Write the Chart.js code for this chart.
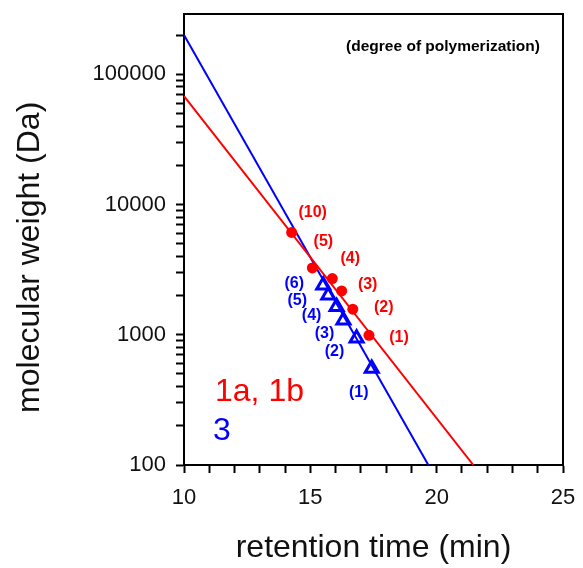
<!DOCTYPE html>
<html>
<head>
<meta charset="utf-8">
<script src="https://cdn.jsdelivr.net/npm/chart.js@4/dist/chart.umd.min.js"></script>
<style>
  html, body { margin: 0; padding: 0; background: #fff; }
  #wrap { width: 583px; height: 568px; }
</style>
</head>
<body>
<div id="wrap"><canvas id="mwChart" width="583" height="568"></canvas></div>
<script>
// retention time (min) vs molecular weight (Da)
const redTimes = [14.26, 15.08, 15.87, 16.24, 16.68, 17.32];
const redMW = [6100, 3260, 2700, 2170, 1570, 990];
const redDP = ["(10)", "(5)", "(4)", "(3)", "(2)", "(1)"];

const blueTimes = [15.51, 15.71, 16.04, 16.31, 16.83, 17.43];
const blueMW = [2400, 2010, 1640, 1290, 940, 550];
const blueDP = ["(6)", "(5)", "(4)", "(3)", "(2)", "(1)"];

// calibration lines (end points)
const redFitTimes = [10, 21.45];
const redFitMW = [68000, 100];
const blueFitTimes = [10, 19.67];
const blueFitMW = [200000, 100];

const xTickLabels = [10, 15, 20, 25];
const yTickLabels = [100, 1000, 10000, 100000];

const RED = "#ff0000";
const BLUE = "#0000ff";
const FONT = '"Liberation Sans", Arial, sans-serif';

function toPoints(xs, ys) {
    return xs.map((x, i) => ({ x: x, y: ys[i] }));
}

// label offsets from each marker (px)
const redOffsets = [[21, -20], [11, -26], [18, -20], [26, -6], [31, -2], [30, 2]];
const blueOffsets = [[-29, -2], [-31, 5], [-25, 9], [-19, 13], [-22, 13], [-13, 24]];

const annotations = {
    id: "annotations",
    afterDatasetsDraw(chart) {
        const ctx = chart.ctx;
        const area = chart.chartArea;
        ctx.save();

        // frame top / right
        ctx.strokeStyle = "#000";
        ctx.lineWidth = 2;
        ctx.beginPath();
        ctx.moveTo(area.left, area.top);
        ctx.lineTo(area.right, area.top);
        ctx.lineTo(area.right, area.bottom);
        ctx.stroke();

        ctx.textAlign = "center";
        ctx.textBaseline = "middle";
        ctx.font = "bold 16px " + FONT;

        ctx.fillStyle = RED;
        chart.getDatasetMeta(0).data.forEach((pt, i) => {
            ctx.fillText(redDP[i], pt.x + redOffsets[i][0], pt.y + redOffsets[i][1]);
        });
        ctx.fillStyle = BLUE;
        chart.getDatasetMeta(1).data.forEach((pt, i) => {
            ctx.fillText(blueDP[i], pt.x + blueOffsets[i][0], pt.y + blueOffsets[i][1]);
        });

        ctx.fillStyle = "#000";
        ctx.font = "bold 15.5px " + FONT;
        ctx.fillText("(degree of polymerization)", area.right - 120, area.top + 33);

        ctx.textAlign = "left";
        ctx.font = "32px " + FONT;
        ctx.fillStyle = RED;
        ctx.fillText("1a, 1b", area.left + 31, 392);
        ctx.fillStyle = BLUE;
        ctx.fillText("3", area.left + 29, 431);

        ctx.restore();
    }
};

new Chart("mwChart", {
    type: "scatter",
    data: {
        datasets: [{
            label: "1a, 1b",
            data: toPoints(redTimes, redMW),
            pointStyle: "circle",
            pointRadius: 5.5,
            backgroundColor: RED,
            borderColor: RED,
            borderWidth: 0,
            showLine: false
        }, {
            label: "3",
            data: toPoints(blueTimes, blueMW),
            pointStyle: "triangle",
            pointRadius: 7.5,
            backgroundColor: "rgba(255,255,255,0)",
            borderColor: BLUE,
            borderWidth: 3,
            showLine: false
        }, {
            label: "fit 1a, 1b",
            data: toPoints(redFitTimes, redFitMW),
            showLine: true,
            borderColor: RED,
            borderWidth: 2,
            pointRadius: 0
        }, {
            label: "fit 3",
            data: toPoints(blueFitTimes, blueFitMW),
            showLine: true,
            borderColor: BLUE,
            borderWidth: 2,
            pointRadius: 0
        }]
    },
    options: {
        responsive: false,
        animation: false,
        layout: { padding: { top: 14, right: 20, left: 0, bottom: 0 } },
        plugins: {
            legend: { display: false },
            tooltip: { enabled: false }
        },
        scales: {
            x: {
                type: "linear",
                min: 10,
                max: 25,
                afterFit: (s) => {
                    s.height = 103;
                    s.paddingLeft = 0;
                    s.paddingRight = 0;
                },
                ticks: {
                    stepSize: 1,
                    autoSkip: false,
                    maxRotation: 0,
                    padding: 12,
                    color: "#111",
                    font: { family: FONT, size: 22 },
                    callback: (v) => xTickLabels.includes(v) ? String(v) : ""
                },
                grid: {
                    drawOnChartArea: false,
                    drawTicks: true,
                    tickLength: 8,
                    tickWidth: 2,
                    tickColor: "#000"
                },
                border: { display: true, color: "#000", width: 2 },
                title: {
                    display: true,
                    text: "retention time (min)",
                    color: "#111",
                    font: { family: FONT, size: 32 },
                    padding: { top: 0, bottom: 1 }
                }
            },
            y: {
                type: "logarithmic",
                min: 100,
                max: 290000,
                afterFit: (s) => {
                    s.width = 184;
                    s.paddingTop = 0;
                    s.paddingBottom = 0;
                },
                afterBuildTicks: (s) => {
                    const vals = [];
                    yTickLabels.forEach((d) => {
                        for (let k = 1; k <= 9; k++) {
                            if (d * k <= 290000) vals.push(d * k);
                        }
                    });
                    s.ticks = vals.map((v) => ({ value: v }));
                },
                ticks: {
                    autoSkip: false,
                    padding: 10,
                    color: "#111",
                    font: { family: FONT, size: 22 },
                    callback: (v) => yTickLabels.includes(v) ? String(v) : ""
                },
                grid: {
                    drawOnChartArea: false,
                    drawTicks: true,
                    tickLength: 8,
                    tickWidth: 2,
                    tickColor: "#000"
                },
                border: { display: true, color: "#000", width: 2 },
                title: {
                    display: true,
                    text: "molecular weight (Da)    ",
                    color: "#111",
                    font: { family: FONT, size: 32 },
                    padding: { top: 11, bottom: 0 }
                }
            }
        }
    },
    plugins: [annotations]
});
</script>
</body>
</html>
